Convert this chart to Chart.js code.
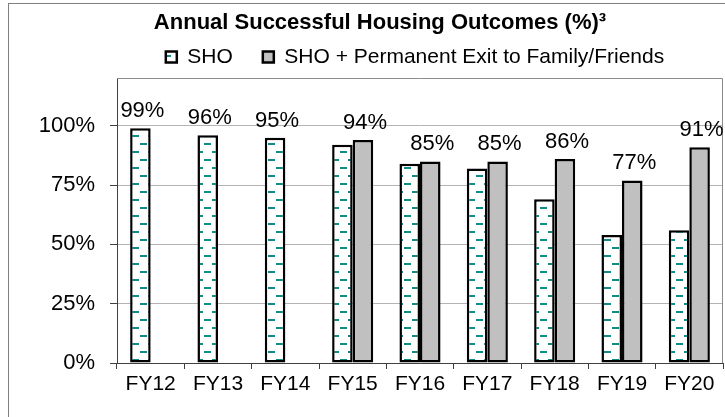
<!DOCTYPE html>
<html>
<head>
<meta charset="utf-8">
<script src="https://cdn.jsdelivr.net/npm/chart.js@4.4.1/dist/chart.umd.min.js"></script>
<style>
  html, body { margin: 0; padding: 0; background: #fff; overflow: hidden; }
  #frame { position: absolute; left: 8px; top: 3px; width: 760px; height: 440px;
           border-left: 1px solid #808080; border-top: 1px solid #808080; }
  #chart { display: block; }
</style>
</head>
<body>
<div id="frame"><canvas id="chart" width="716" height="413"></canvas></div>
<script>
// Chart data
const categories = ['FY12', 'FY13', 'FY14', 'FY15', 'FY16', 'FY17', 'FY18', 'FY19', 'FY20'];
const shoValues = [99, 96, 95, 92, 84, 82, 69, 54, 56];
const shoPlusValues = [null, null, null, 94, 85, 85, 86, 77, 91];
const yTicks = [0, 25, 50, 75, 100];
const seriesNames = ['SHO', 'SHO + Permanent Exit to Family/Friends'];
const chartTitle = 'Annual Successful Housing Outcomes (%)\u00B3';

const FONT = '"Liberation Sans", Arial, sans-serif';
const canvas = document.getElementById('chart');
const ctx = canvas.getContext('2d');

// white fill with short teal dashes, like the Excel "dashed horizontal" pattern
function makeDashPattern() {
  const tile = document.createElement('canvas');
  tile.width = 16;
  tile.height = 16;
  const g = tile.getContext('2d');
  g.fillStyle = '#ffffff';
  g.fillRect(0, 0, 16, 16);
  g.fillStyle = '#0f8c88';
  g.fillRect(11, 3, 5, 2);
  g.fillRect(0, 3, 2, 2);
  g.fillRect(3, 11, 7, 2);
  return ctx.createPattern(tile, 'repeat');
}

// data labels: on the second series where it exists, otherwise on SHO
const valueLabels = {
  id: 'valueLabels',
  afterDatasetsDraw(chart) {
    const c = chart.ctx;
    c.save();
    c.font = '22px ' + FONT;
    c.fillStyle = '#000';
    c.textAlign = 'center';
    c.textBaseline = 'alphabetic';
    categories.forEach((cat, i) => {
      const di = shoPlusValues[i] != null ? 1 : 0;
      const bar = chart.getDatasetMeta(di).data[i];
      const v = chart.data.datasets[di].data[i];
      c.fillText(v + '%', bar.x + 2, bar.y - 11);
    });
    c.restore();
  }
};

// top and right edges of the plot area
const plotFrame = {
  id: 'plotFrame',
  beforeDatasetsDraw(chart) {
    const a = chart.chartArea;
    const c = chart.ctx;
    c.save();
    c.strokeStyle = '#8c8c8c';
    c.lineWidth = 1;
    c.beginPath();
    c.moveTo(a.left, Math.round(a.top) + 0.5);
    c.lineTo(Math.round(a.right) - 0.5, Math.round(a.top) + 0.5);
    c.lineTo(Math.round(a.right) - 0.5, a.bottom);
    c.stroke();
    c.restore();
  }
};

// move title and legend to where the original had them
const LEGEND_PAD = 30;
const LEGEND_FONT = 21;
const headerShift = {
  id: 'headerShift',
  afterLayout(chart) {
    const t = chart.titleBlock;
    t.left += 14; t.right += 14;
    const lg = chart.legend;
    lg.left += 49; lg.right += 49;
    lg.top = 53 - LEGEND_PAD - LEGEND_FONT / 2;
    lg.bottom = lg.top + 70;
  }
};

new Chart(ctx, {
  type: 'bar',
  data: {
    labels: categories,
    datasets: [
      {
        label: seriesNames[0],
        data: shoValues,
        backgroundColor: makeDashPattern(),
        borderColor: '#000',
        borderWidth: 2.5,
        borderSkipped: false
      },
      {
        label: seriesNames[1],
        data: shoPlusValues,
        backgroundColor: '#c0c0c0',
        borderColor: '#000',
        borderWidth: 2.5,
        borderSkipped: false
      }
    ]
  },
  options: {
    responsive: false,
    animation: false,
    events: [],
    categoryPercentage: 0.61,
    barPercentage: 1.0,
    layout: { padding: { left: 0, right: 2, top: 0, bottom: 0 } },
    plugins: {
      title: {
        display: true,
        text: chartTitle,
        color: '#000',
        font: { family: FONT, size: 22, weight: 'bold' },
        padding: { top: 6, bottom: 0 }
      },
      legend: {
        display: true,
        maxHeight: 42,
        labels: {
          color: '#000',
          font: { family: FONT, size: LEGEND_FONT },
          boxWidth: 11,
          boxHeight: 11,
          padding: LEGEND_PAD
        }
      },
      tooltip: { enabled: false }
    },
    scales: {
      x: {
        offset: true,
        grid: {
          offset: true,
          drawOnChartArea: false,
          drawTicks: true,
          tickLength: 6,
          color: '#404040'
        },
        border: { display: true, color: '#404040', width: 1 },
        ticks: { color: '#000', font: { family: FONT, size: 21 }, padding: 3 },
        afterFit(axis) { axis.height = 54; }
      },
      y: {
        min: 0,
        max: 120,
        afterBuildTicks(axis) { axis.ticks = yTicks.map(v => ({ value: v })); },
        grid: { color: '#b4b4b4', tickColor: '#404040', tickLength: 7 },
        border: { display: true, color: '#404040', width: 1 },
        ticks: {
          color: '#000',
          font: { family: FONT, size: 22 },
          padding: 15,
          callback: v => v + '%'
        },
        afterFit(axis) { axis.width = 108; }
      }
    }
  },
  plugins: [valueLabels, plotFrame, headerShift]
});
</script>
</body>
</html>
